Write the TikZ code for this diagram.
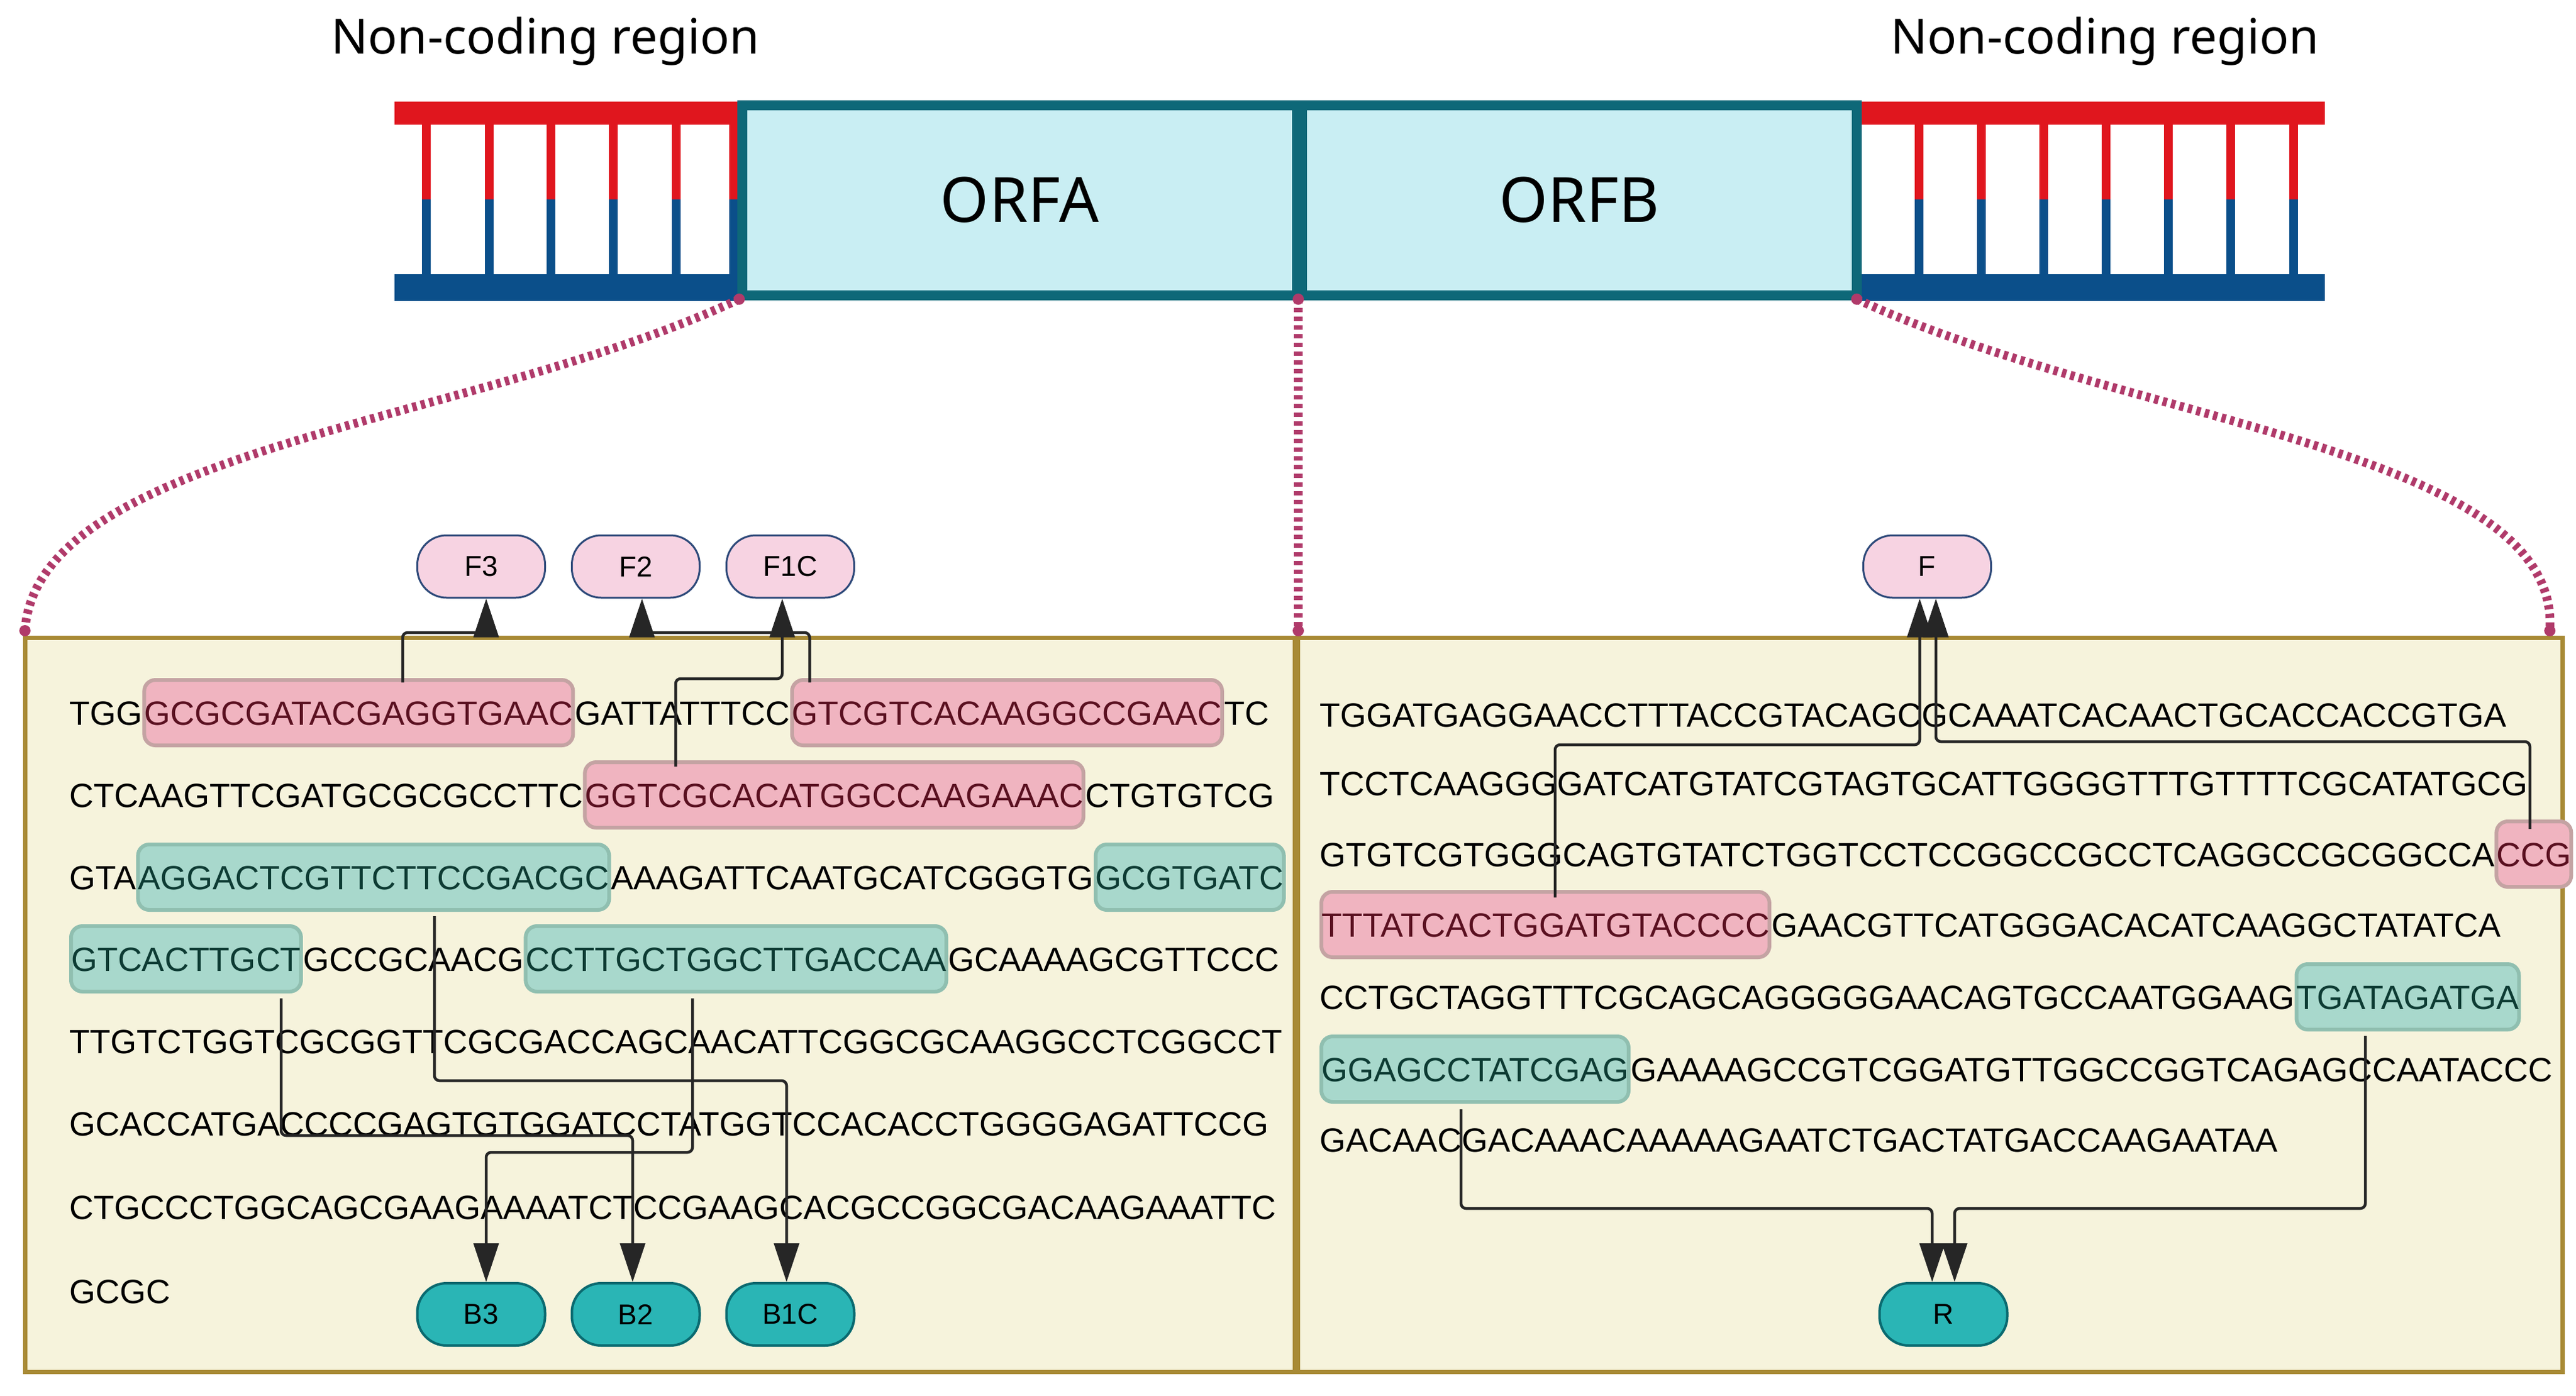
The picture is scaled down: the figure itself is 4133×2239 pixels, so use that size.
\documentclass[tikz,border=0pt]{standalone}
\usepackage{fontspec}
\setmainfont{Liberation Sans}
\newfontfamily\titlef{Noto Sans}
\usetikzlibrary{arrows.meta}
\definecolor{dnared}{HTML}{E0161E}
\definecolor{dnablue}{HTML}{0B4F8A}
\definecolor{orfb}{HTML}{0E6878}
\definecolor{orff}{HTML}{C9EEF3}
\definecolor{dotc}{HTML}{B03A6A}
\definecolor{panelf}{HTML}{F6F3DC}
\definecolor{paneld}{HTML}{A88A35}
\definecolor{pinkF}{HTML}{F0B4C0}
\definecolor{pinkB}{HTML}{C4A3A3}
\definecolor{pinkT}{HTML}{5A1020}
\definecolor{tealF}{HTML}{A8D8CC}
\definecolor{tealB}{HTML}{90BFB0}
\definecolor{tealT}{HTML}{0D3B33}
\definecolor{pillP}{HTML}{F7D3E2}
\definecolor{pillPB}{HTML}{2E4A7A}
\definecolor{pillT}{HTML}{2AB5B5}
\definecolor{pillTB}{HTML}{0A6A70}
\newcommand{\seqfont}{\fontsize{54}{60}\selectfont}
\tikzset{
 seg/.style={anchor=base west, inner xsep=0pt, inner ysep=0pt, font=\seqfont, text height=39pt, text depth=0pt},
 hp/.style={seg, fill=pinkF, draw=pinkB, line width=6pt, rounded corners=18pt, inner ysep=33pt, text=pinkT},
 ht/.style={seg, fill=tealF, draw=tealB, line width=6pt, rounded corners=18pt, inner ysep=33pt, text=tealT},
 pillp/.style={draw=pillPB, line width=3pt, fill=pillP, rounded corners=47pt, minimum width=205pt, minimum height=100pt, font=\fontsize{46}{50}\selectfont},
 pillt/.style={draw=pillTB, line width=4pt, fill=pillT, rounded corners=47pt, minimum width=205pt, minimum height=100pt, font=\fontsize{46}{50}\selectfont},
 conn/.style={draw=black!85, line width=4.5pt, rounded corners=8pt},
 arr/.style={conn, -{Triangle[length=62pt,width=40pt]}},
 dots/.style={draw=dotc, line width=14pt, dash pattern=on 7pt off 7pt},
 orf/.style={draw=orfb, line width=16pt, fill=orff, font=\titlef\fontsize{100}{110}\selectfont},
 ttl/.style={font=\titlef\fontsize{78}{90}\selectfont},
 panel/.style={draw=paneld, line width=7pt, fill=panelf}
}
\begin{document}
\begin{tikzpicture}[x=1pt,y=-1pt]
\useasboundingbox (0,0) rectangle (4133,2239);
% titles
\node[ttl] (t1) at (875,66) {Non-coding region};
\node[ttl] (t2) at (3377,66) {Non-coding region};
% left DNA
\fill[dnared] (633,163) rectangle (1190,200);
\fill[dnablue] (633,440) rectangle (1190,483);
\foreach \x in {684,785,884,984,1085,1177}{
  \fill[dnared] (\x-7,200) rectangle (\x+7,320);
  \fill[dnablue] (\x-7,320) rectangle (\x+7,440);}
% right DNA
\fill[dnared] (2985,163) rectangle (3730,200);
\fill[dnablue] (2985,440) rectangle (3730,483);
\foreach \x in {3079,3179,3279,3379,3479,3579,3680}{
  \fill[dnared] (\x-7,200) rectangle (\x+7,320);
  \fill[dnablue] (\x-7,320) rectangle (\x+7,440);}
% ORFs
\node[orf, minimum width=890pt, minimum height=305pt] (orfa) at (1636,321) {ORFA};
\node[orf, minimum width=890pt, minimum height=305pt] (orfbx) at (2534,321) {ORFB};
% panels
\node[panel, minimum width=2037pt, minimum height=1178pt, inner sep=0] (pl) at (1059,1612) {};
\node[panel, minimum width=2029pt, minimum height=1178pt, inner sep=0] (pr) at (3097,1612) {};
% dotted links
\coordinate (d1) at (1186,480); \coordinate (d2) at (2083,480); \coordinate (d3) at (2979,480);
\coordinate (e1) at (40,1012); \coordinate (e2) at (2083,1012); \coordinate (e3) at (4091,1012);
\draw[dots] (d1) .. controls (760,680) and (60,720) .. (e1);
\draw[dots] (d2) -- (e2);
\draw[dots] (d3) .. controls (3410,680) and (4110,720) .. (e3);
\fill[dotc] (d1) circle (9); \fill[dotc] (d2) circle (9); \fill[dotc] (d3) circle (9);
\fill[dotc] (e1) circle (9); \fill[dotc] (e2) circle (9); \fill[dotc] (e3) circle (9);
% left sequence
\node[seg] (l1a) at (111,1163) {TGG};
\node[hp] (l1b) at (l1a.base east) {GCGCGATACGAGGTGAAC};
\node[seg] (l1c) at (l1b.base east) {GATTATTTCC};
\node[hp] (l1d) at (l1c.base east) {GTCGTCACAAGGCCGAAC};
\node[seg] (l1e) at (l1d.base east) {TC};
\node[seg] (l2a) at (111,1295) {CTCAAGTTCGATGCGCGCCTTC};
\node[hp] (l2b) at (l2a.base east) {GGTCGCACATGGCCAAGAAAC};
\node[seg] (l2c) at (l2b.base east) {CTGTGTCG};
\node[seg] (l3a) at (111,1427) {GTA};
\node[ht] (l3b) at (l3a.base east) {AGGACTCGTTCTTCCGACGC};
\node[seg] (l3c) at (l3b.base east) {AAAGATTCAATGCATCGGGTG};
\node[ht] (l3d) at (l3c.base east) {GCGTGATC};
\node[ht] (l4a) at (111,1558) {GTCACTTGCT};
\node[seg] (l4b) at (l4a.base east) {GCCGCAACG};
\node[ht] (l4c) at (l4b.base east) {CCTTGCTGGCTTGACCAA};
\node[seg] (l4d) at (l4c.base east) {GCAAAAGCGTTCCC};
\node[seg] (l5) at (111,1690) {TTGTCTGGTCGCGGTTCGCGACCAGCAACATTCGGCGCAAGGCCTCGGCCT};
\node[seg] (l6) at (111,1822) {GCACCATGACCCCGAGTGTGGATCCTATGGTCCACACCTGGGGAGATTCCG};
\node[seg] (l7) at (111,1956) {CTGCCCTGGCAGCGAAGAAAATCTCCGAAGCACGCCGGCGACAAGAAATTC};
\node[seg] (l8) at (111,2091) {GCGC};
% right sequence
\node[seg] (r1) at (2117,1166) {TGGATGAGGAACCTTTACCGTACAGCGCAAATCACAACTGCACCACCGTGA};
\node[seg] (r2) at (2117,1276) {TCCTCAAGGGGATCATGTATCGTAGTGCATTGGGGTTTGTTTTCGCATATGCG};
\node[seg] (r3a) at (2117,1390) {GTGTCGTGGGCAGTGTATCTGGTCCTCCGGCCGCCTCAGGCCGCGGCCA};
\node[hp] (r3b) at (r3a.base east) {CCG};
\node[hp] (r4a) at (2117,1503) {TTTATCACTGGATGTACCCC};
\node[seg] (r4b) at (r4a.base east) {GAACGTTCATGGGACACATCAAGGCTATATCA};
\node[seg] (r5a) at (2117,1619) {CCTGCTAGGTTTCGCAGCAGGGGGAACAGTGCCAATGGAAG};
\node[ht] (r5b) at (r5a.base east) {TGATAGATGA};
\node[ht] (r6a) at (2117,1735) {GGAGCCTATCGAG};
\node[seg] (r6b) at (r6a.base east) {GAAAAGCCGTCGGATGTTGGCCGGTCAGAGCCAATACCC};
\node[seg] (r7) at (2117,1848) {GACAACGACAAACAAAAAGAATCTGACTATGACCAAGAATAA};
% pills
\node[pillp] (F3) at (772,909) {F3};
\node[pillp] (F2) at (1020,909) {F2};
\node[pillp] (F1C) at (1268,909) {F1C};
\node[pillp] (F) at (3092,909) {F};
\node[pillt] (B3) at (772,2109) {B3};
\node[pillt] (B2) at (1020,2109) {B2};
\node[pillt] (B1C) at (1268,2109) {B1C};
\node[pillt] (R) at (3118,2109) {R};
% connectors
\coordinate (sF3) at (646,1095); \coordinate (kF3) at (780,1015);
\draw[arr] (sF3) |- (kF3) -- (kF3 |- F3.south);
\coordinate (sF2) at (1299,1095); \coordinate (kF2) at (1030,1015);
\draw[arr] (sF2) |- (kF2) -- (kF2 |- F2.south);
\coordinate (sF1C) at (1084,1230); \coordinate (kF1C) at (1255,1089);
\draw[arr] (sF1C) |- (kF1C) -- (kF1C |- F1C.south);
\coordinate (sB1C) at (697,1470); \coordinate (kB1C) at (1262,1734);
\draw[arr] (sB1C) |- (kB1C) -- (kB1C |- B1C.north);
\coordinate (sB2) at (451,1602); \coordinate (kB2) at (1015,1822);
\draw[arr] (sB2) |- (kB2) -- (kB2 |- B2.north);
\coordinate (sB3) at (1111,1602); \coordinate (kB3) at (780,1849);
\draw[arr] (sB3) |- (kB3) -- (kB3 |- B3.north);
\coordinate (sFa) at (2495,1440); \coordinate (kFa) at (3080,1195);
\draw[arr] (sFa) |- (kFa) -- (kFa |- F.south);
\coordinate (sFb) at (4059,1330); \coordinate (kFb) at (3106,1190);
\draw[arr] (sFb) |- (kFb) -- (kFb |- F.south);
\coordinate (sRa) at (2344,1780); \coordinate (kRa) at (3100,1939);
\draw[arr] (sRa) |- (kRa) -- (kRa |- R.north);
\coordinate (sRb) at (3795,1662); \coordinate (kRb) at (3136,1939);
\draw[arr] (sRb) |- (kRb) -- (kRb |- R.north);
\end{tikzpicture}
\end{document}
